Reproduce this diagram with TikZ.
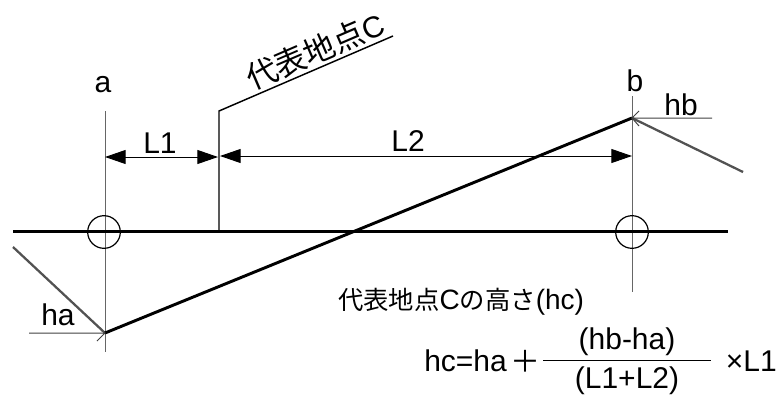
\documentclass[tikz,border=0pt]{standalone}
\usepackage{fontspec}
\setmainfont{Liberation Sans}
\newfontfamily\cjk{Noto Sans CJK JP}
\usetikzlibrary{arrows.meta}
\tikzset{
	thickline/.style={line width=2.2pt,black},
	grayline/.style={line width=1.7pt,black!68},
	axisline/.style={line width=0.75pt,black!60},
	dimline/.style={line width=0.75pt,black,{Triangle[length=15.5pt,width=10.5pt]}-{Triangle[length=15.5pt,width=10.5pt]}},
	leaderline/.style={line width=0.75pt,black!75},
	pile/.style={draw,circle,line width=0.9pt,minimum size=24.5pt,inner sep=0pt},
	lbl/.style={font=\fontsize{22.5}{22.5}\selectfont,inner sep=0pt},
	smalltxt/.style={font=\fontsize{21}{21}\selectfont,inner sep=0pt}
}
\begin{document}
\begin{tikzpicture}[x=0.75pt,y=-0.75pt]
	\useasboundingbox (0,0) rectangle (780,396);
	% reference points
	\coordinate (atop) at (105,111);
	\coordinate (abot) at (105,352);
	\coordinate (btop) at (632,96);
	\coordinate (bbot) at (632,292);
	\coordinate (gl) at (13,231.5);
	\coordinate (gr) at (728,231.5);
	\coordinate (cbot) at (219,232);
	\coordinate (ctop) at (219,111);
	\coordinate (cend) at (393,36);
	\coordinate (lowpt) at (105,333);
	\coordinate (highpt) at (632,118);
	\coordinate (lowend) at (13,247);
	\coordinate (highend) at (743,172);
	\coordinate (haend) at (29,333);
	\coordinate (hbend) at (712,118);
	\coordinate (dima) at (105,157);
	\coordinate (dimc1) at (218,157);
	\coordinate (dimc2) at (220,156);
	\coordinate (dimb) at (632,156);
	\coordinate (fracl) at (543,360);
	\coordinate (fracr) at (711,360);
	\coordinate (ticka) at (97,341);
	\coordinate (tickb1) at (639,111);
	\coordinate (tickb3) at (639,126);
	% grid lines
	\draw[axisline] (atop) -- (abot);
	\draw[axisline] (btop) -- (bbot);
	\draw[thickline] (gl) -- (gr);
	\node[pile] (pilea) at (104,232) {};
	\node[pile] (pileb) at (632,232) {};
	\draw[line width=1.1pt] (cbot) -- (ctop) -- (cend);
	% levels
	\draw[grayline] (lowend) -- (lowpt);
	\draw[grayline] (highend) -- (highpt);
	\draw[thickline] (lowpt) -- (highpt);
	\draw[leaderline] (haend) -- (lowpt) -- (ticka);
	\draw[leaderline] (hbend) -- (highpt) -- (tickb1);
	\draw[leaderline] (highpt) -- (tickb3);
	% dimensions
	\draw[dimline] (dima) -- (dimc1);
	\draw[dimline] (dimc2) -- (dimb);
	\draw[line width=0.75pt] (fracl) -- (fracr);
	% labels
	\node[lbl] (lbla) at (103,85) {a};
	\node[lbl] (lblb) at (635,81) {b};
	\node[lbl] (lblone) at (160,143) {L1};
	\node[lbl] (lbltwo) at (408,141) {L2};
	\node[lbl] (lblha) at (58,315) {ha};
	\node[lbl] (lblhb) at (681,105) {hb};
	\node[lbl,rotate=23.3] (lblc) at (315,51) {{\cjk\fontsize{23.5}{23.5}\selectfont 代表地点}C};
	\node[smalltxt,anchor=west] (lblhc) at (338,302) {{\cjk\fontsize{19}{19}\selectfont 代表地点}C{\cjk\fontsize{19}{19}\selectfont の高さ}(hc)};
	\node[lbl,anchor=west] (lbleq) at (424,361) {hc=ha};
	\node[lbl] (lblplus) at (525,361) {\cjk ＋};
	\node[lbl] (lblnum) at (627,342) {(hb-ha)};
	\node[lbl] (lbldenom) at (627,381) {(L1+L2)};
	\node[lbl,anchor=east] (lbltimes) at (777,361) {×L1};
\end{tikzpicture}
\end{document}
